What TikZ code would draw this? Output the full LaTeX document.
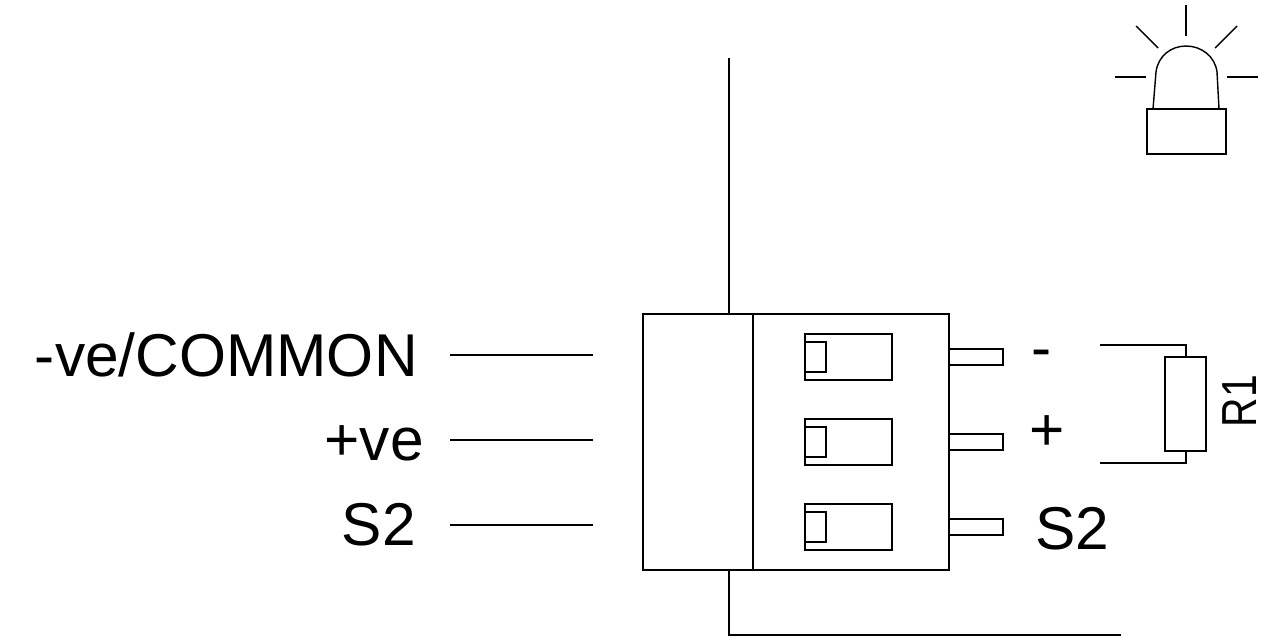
\documentclass[tikz,border=0pt]{standalone}
\usepackage{graphicx}
\usepackage{fontspec}
\setmainfont{Liberation Sans}
\tikzset{
    wire/.style={black, line width=.8pt},
    lbl/.style={inner sep=0pt, font=\fontsize{34.4}{40}\selectfont},
}
\begin{document}
\begin{tikzpicture}[x=.02cm,y=-.02cm]
\useasboundingbox (0,0) rectangle (1271,640);

% terminal block
\draw[wire] (643,314) rectangle (949,570);
\draw[wire] (753,314) -- (753,570);
\draw[wire] (729,58) -- (729,314);
\draw[wire] (729,570) -- (729,635) -- (1121,635);

% windows, pins and leaders
\foreach \i/\ly in {0/355,1/440,2/525}{
    \draw[wire] ({805},{334+85*\i}) rectangle ({892},{380+85*\i});
    \draw[wire] ({805},{342+85*\i}) rectangle ({826},{372+85*\i});
    \draw[wire] ({949},{349+85*\i}) rectangle ({1003},{365+85*\i});
    \draw[wire] (450,\ly) -- (593,\ly);
}

% labels
\node[lbl, anchor=base east] (common) at (418,376) {-ve/COMMON};
\node[lbl, anchor=base east] (plusL) at (424,460) {+ve};
\node[lbl, anchor=base east] (sigL) at (416,545) {S2};
\node[lbl, anchor=base west] (minusR) at (1031,368) {-};
\node[lbl, anchor=base west] (plusR) at (1029,450) {+};
\node[lbl, anchor=base west] (sigR) at (1035,549) {S2};

% R1
\draw[wire] (1165,357) rectangle (1206,451);
\draw[wire] (1100,345) -- (1186,345) -- (1186,357);
\draw[wire] (1100,463) -- (1186,463) -- (1186,451);
\node[lbl, font=\fontsize{28}{32}\selectfont, rotate=90, anchor=base] (rOne) at (1256,401) {\scalebox{.83}[1]{R1}};

% lamp
\draw[wire] (1147,109) rectangle (1226,154);
\draw[wire] (1153,109) -- (1156,72) .. controls (1158,56) and (1171,46) .. (1186,46)
    .. controls (1201,46) and (1215,56) .. (1217,72) -- (1219,109);
\draw[wire] (1186,5) -- (1186,36);
\draw[wire] (1136,26) -- (1158,48);
\draw[wire] (1237,26) -- (1215,48);
\draw[wire] (1115,77) -- (1146,77);
\draw[wire] (1227,77) -- (1258,77);
\end{tikzpicture}
\end{document}
